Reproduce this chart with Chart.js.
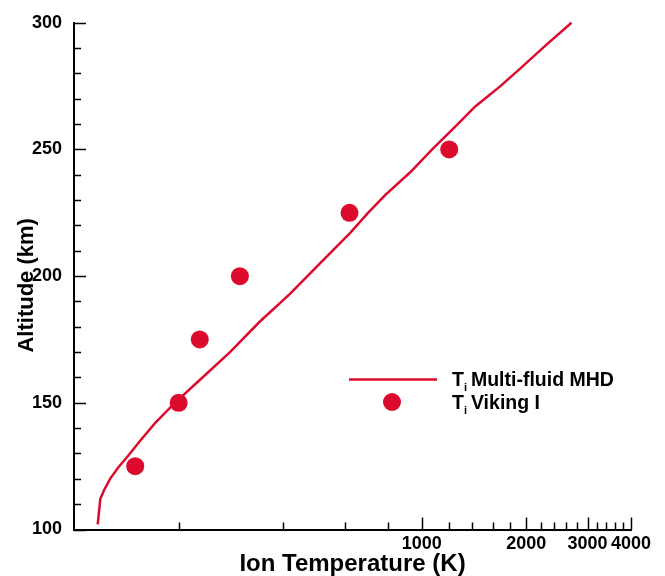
<!DOCTYPE html>
<html>
<head>
<meta charset="utf-8">
<script src="https://cdn.jsdelivr.net/npm/chart.js@4/dist/chart.umd.min.js"></script>
<style>
  html, body { margin: 0; padding: 0; background: #fff; }
  #wrap { width: 665px; height: 576px; }
</style>
</head>
<body>
<div id="wrap"><canvas id="c" width="665" height="576"></canvas></div>
<script>
// ---- data ----
const mhdTemp = [117, 118, 119, 122, 127, 134, 143, 155, 171, 195, 230, 281, 342, 418, 510, 622, 701, 785, 927, 1072, 1249, 1426, 1684, 1923, 2269, 2697];
const mhdAlt  = [102, 107, 112, 115.5, 120, 124.5, 129, 135, 142, 150, 159, 170, 182, 193, 205, 217, 225, 232, 241, 250, 259, 267, 275, 282, 291, 300];
const vikingTemp = [150, 200, 230, 300, 620, 1200];
const vikingAlt  = [125, 150, 175, 200, 225, 250];

const xMajorTicks = [1000, 2000, 3000, 4000];
const xMinorTicks = [200, 400, 600, 800, 1200, 1400, 1600, 1800, 2200, 2400, 2600, 2800, 3200, 3400, 3600, 3800];
const yMajorTicks = [100, 150, 200, 250, 300];
const yMinorTicks = [110, 120, 130, 140, 160, 170, 180, 190, 210, 220, 230, 240, 260, 270, 280, 290];

const seriesNames = ['Multi-fluid MHD', 'Viking I'];

const RED = '#DC0A2D';
const FAMILY = '"Liberation Sans", Arial, Helvetica, sans-serif';

const tickMarks = {
  id: 'tickMarks',
  afterDraw(chart) {
    const {ctx, chartArea, scales: {x, y}} = chart;
    ctx.save();
    ctx.strokeStyle = '#000';
    ctx.lineWidth = 1.5;
    ctx.beginPath();
    const all = xMinorTicks.map(v => [v, 7]).concat(xMajorTicks.map(v => [v, 12]));
    all.forEach(([v, len]) => {
      const px = Math.round(x.getPixelForValue(v)) + 0.5;
      ctx.moveTo(px, chartArea.bottom);
      ctx.lineTo(px, chartArea.bottom - len);
    });
    const ally = yMinorTicks.map(v => [v, 7]).concat(yMajorTicks.map(v => [v, 12]));
    ally.forEach(([v, len]) => {
      const py = Math.round(y.getPixelForValue(v)) + 0.5;
      ctx.moveTo(chartArea.left, py);
      ctx.lineTo(chartArea.left + len, py);
    });
    ctx.stroke();
    ctx.restore();
  }
};

const customLegend = {
  id: 'customLegend',
  afterDraw(chart) {
    const ctx = chart.ctx;
    ctx.save();
    ctx.strokeStyle = RED;
    ctx.lineWidth = 2.5;
    ctx.beginPath();
    ctx.moveTo(349, 379.5);
    ctx.lineTo(437, 379.5);
    ctx.stroke();
    ctx.fillStyle = RED;
    ctx.beginPath();
    ctx.arc(392, 402, 9, 0, Math.PI * 2);
    ctx.fill();
    ctx.fillStyle = '#000';
    ctx.textBaseline = 'alphabetic';
    ctx.textAlign = 'left';
    const rows = [[386, seriesNames[0]], [409, seriesNames[1]]];
    rows.forEach(([base, name]) => {
      let xx = 452;
      ctx.font = 'bold 19.5px ' + FAMILY;
      ctx.fillText('T', xx, base);
      xx += ctx.measureText('T').width;
      ctx.font = 'bold 11px ' + FAMILY;
      ctx.fillText('i', xx, base + 5);
      xx += ctx.measureText('i').width + 4;
      ctx.font = 'bold 19.5px ' + FAMILY;
      ctx.fillText(name, xx, base);
    });
    ctx.restore();
  }
};

new Chart(document.getElementById('c'), {
  type: 'scatter',
  data: {
    datasets: [
      {
        label: 'Ti Viking I',
        data: vikingTemp.map((t, i) => ({x: t, y: vikingAlt[i]})),
        backgroundColor: RED,
        borderColor: RED,
        borderWidth: 0,
        pointRadius: 9,
        pointHoverRadius: 9,
        order: 0
      },
      {
        label: 'Ti Multi-fluid MHD',
        data: mhdTemp.map((t, i) => ({x: t, y: mhdAlt[i]})),
        showLine: true,
        borderColor: RED,
        borderWidth: 2.5,
        pointRadius: 0,
        tension: 0,
        fill: false,
        order: 1
      }
    ]
  },
  options: {
    responsive: false,
    animation: false,
    devicePixelRatio: 1,
    clip: false,
    layout: { padding: { top: 21, right: 34, left: 0, bottom: 0 } },
    plugins: { legend: { display: false }, tooltip: { enabled: false } },
    scales: {
      x: {
        type: 'logarithmic',
        position: 'bottom',
        min: 100,
        max: 4000,
        grid: { display: false, drawTicks: false },
        border: { display: true, color: '#000', width: 2 },
        afterBuildTicks: s => { s.ticks = xMajorTicks.map(v => ({value: v})); },
        ticks: {
          autoSkip: false, maxRotation: 0, minRotation: 0, padding: 4,
          color: '#000',
          font: { family: FAMILY, size: 18, weight: 'bold' },
          callback: v => String(v)
        },
        title: {
          display: true, text: 'Ion Temperature (K)', color: '#000',
          font: { family: FAMILY, size: 24, weight: 'bold' },
          padding: { top: 0, bottom: -3 }
        },
        afterFit: s => { s.height = 46.5; }
      },
      y: {
        type: 'linear',
        position: 'left',
        min: 100,
        max: 300,
        grid: { display: false, drawTicks: false },
        border: { display: true, color: '#000', width: 2 },
        afterBuildTicks: s => { s.ticks = yMajorTicks.map(v => ({value: v})); },
        ticks: {
          padding: 12, color: '#000',
          font: { family: FAMILY, size: 18, weight: 'bold' },
          callback: v => String(v)
        },
        title: {
          display: true, text: 'Altitude (km)   ', color: '#000',
          font: { family: FAMILY, size: 22, weight: 'bold' },
          padding: { top: 14, bottom: 0 }
        },
        afterFit: s => { s.width = 74; }
      }
    }
  },
  plugins: [tickMarks, customLegend]
});
</script>
</body>
</html>
